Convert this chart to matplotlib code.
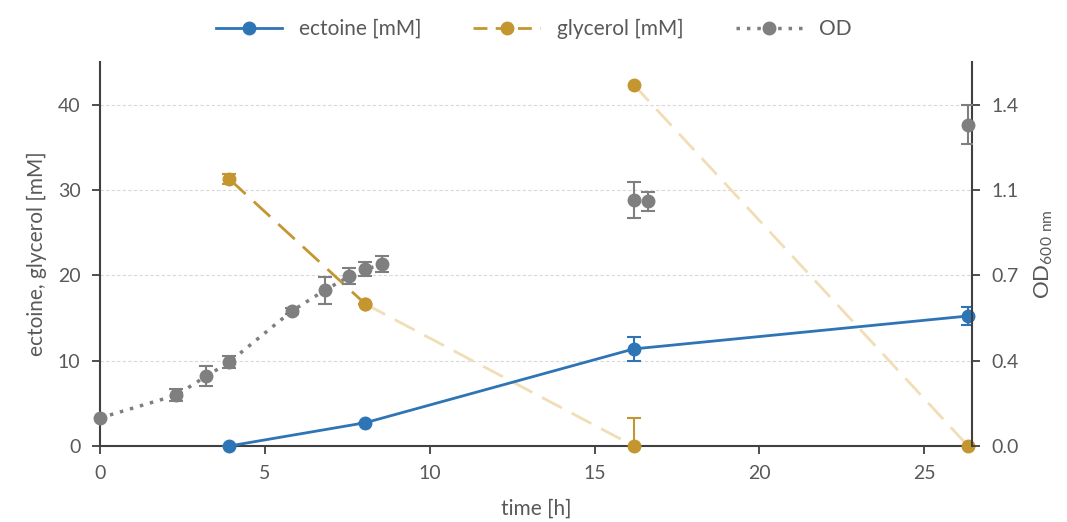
import matplotlib
matplotlib.use('Agg')
import matplotlib.pyplot as plt
from matplotlib.lines import Line2D

plt.rcParams['font.family'] = ['Lato', 'DejaVu Sans']

# ectoine [mM]
t_ect = [3.92, 8.05, 16.19, 26.33]
ect = [0.0, 2.73, 11.38, 15.24]
ect_err = [0.0, 0.0, 1.4, 1.07]

# glycerol [mM], first batch and re-feed
t_gly1 = [3.92, 8.05]
gly1 = [31.3, 16.64]
gly1_err = [0.55, 0.0]
t_gly2 = [8.05, 16.19]
gly2 = [16.64, 0.0]
gly2_err = [0.0, 3.24]
t_gly3 = [16.19, 26.33]
gly3 = [42.34, 0.0]

# OD600
t_od = [0.0, 2.32, 3.23, 3.92, 5.81, 6.82, 7.56, 8.05, 8.56, 16.19, 16.62, 26.33]
od = [0.115, 0.209, 0.287, 0.344, 0.553, 0.639, 0.696, 0.725, 0.745, 1.01, 1.005, 1.318]
od_err = [0.0, 0.025, 0.041, 0.025, 0.012, 0.055, 0.033, 0.029, 0.033, 0.073, 0.039, 0.081]

od_ticks = [0.0, 0.35, 0.7, 1.05, 1.4]
od_labels = ['0.0', '0.4', '0.7', '1.1', '1.4']

blue = '#2e75b6'
gold = '#c4962f'
tan = '#f1ddb6'
grey = '#7f7f7f'
txt = '#595959'
spine = '#404040'
dash = (0, (8, 4))

fig = plt.figure(figsize=(10.67, 5.22), dpi=100)
ax = fig.add_axes([0.0937, 0.1456, 0.8173, 0.7354])
ax2 = ax.twinx()

ax.grid(axis='y', color='#d9d9d9', linestyle=(0, (3, 2)), linewidth=0.8)
ax.set_axisbelow(True)

eb = dict(markersize=9, elinewidth=1.5, capsize=5, capthick=1.5)

# light dashed parts of glycerol
ax.plot(t_gly2, gly2, color=tan, linestyle=dash, linewidth=2, zorder=2)
ax.plot(t_gly3, gly3, color=tan, linestyle=dash, linewidth=2, zorder=2)
conts = []
conts.append(ax.errorbar(t_gly2, gly2, yerr=gly2_err, fmt='o', color=gold,
                         ecolor=gold, zorder=3, **eb))
conts.append(ax.errorbar(t_gly3, gly3, fmt='o', color=gold, zorder=3, **eb))
conts.append(ax.errorbar(t_gly1, gly1, yerr=gly1_err, fmt='o', color=gold,
                         linestyle=dash, linewidth=2, ecolor=gold, zorder=3, **eb))
conts.append(ax.errorbar(t_ect, ect, yerr=ect_err, fmt='o-', color=blue,
                         linewidth=2, ecolor=blue, zorder=4, **eb))
conts.append(ax2.errorbar(t_od[:9], od[:9], yerr=od_err[:9], fmt='o', color=grey,
                          linestyle=(0, (1, 2)), linewidth=2.5, ecolor=grey,
                          zorder=3, **eb))
conts.append(ax2.errorbar(t_od[9:], od[9:], yerr=od_err[9:], fmt='o', color=grey,
                          ecolor=grey, zorder=3, **eb))
# keep edge markers whole
for c in conts:
    c.lines[0].set_clip_on(False)

ax.set_xlim(0, 26.45)
ax.set_ylim(0, 45)
ax.set_xticks([0, 5, 10, 15, 20, 25])
ax.set_yticks([0, 10, 20, 30, 40])
ax2.set_ylim(0, 1.575)
ax2.set_yticks(od_ticks)
ax2.set_yticklabels(od_labels)

for a in (ax, ax2):
    a.spines['top'].set_visible(False)
    for s in ('left', 'right', 'bottom'):
        a.spines[s].set_color(spine)
        a.spines[s].set_linewidth(1.5)
    a.tick_params(colors=txt, labelsize=14, length=6, width=1.3, pad=8)
    a.tick_params(axis='both', color=spine)
ax.spines['right'].set_visible(False)
ax2.spines['left'].set_visible(False)
ax2.spines['bottom'].set_visible(False)

ax.set_xlabel('time [h]', fontsize=15, color=txt, labelpad=12)
ax.set_ylabel('ectoine, glycerol [mM]', fontsize=15, color=txt, labelpad=8)
ax2.set_ylabel('OD$_{\\mathregular{600\\ nm}}$', fontsize=16, color=txt, labelpad=10)

handles = [
    Line2D([], [], color=blue, marker='o', markersize=9, linewidth=2),
    Line2D([], [], color=gold, marker='o', markersize=9, linewidth=2, linestyle=(0, (5, 3))),
    Line2D([], [], color=grey, marker='o', markersize=9, linewidth=2.5, linestyle=(0, (1, 2))),
]
fig.legend(handles, ['ectoine [mM]', 'glycerol [mM]', 'OD'], loc='upper center',
           bbox_to_anchor=(0.5, 1.0), ncol=3, frameon=False, fontsize=15,
           labelcolor=txt, handlelength=3.2, columnspacing=2.5)

fig.savefig('out.png', dpi=100)
